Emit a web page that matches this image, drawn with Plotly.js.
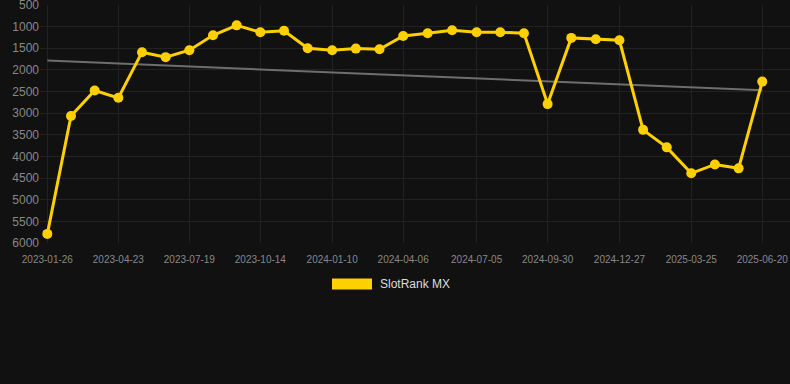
<!DOCTYPE html>
<html>
<head>
<meta charset="utf-8">
<script src="https://cdn.plot.ly/plotly-3.0.1.min.js"></script>
<style>
html,body{margin:0;padding:0;background:#111111;}
#chart{width:790px;height:384px;}
</style>
</head>
<body>
<div id="chart"></div>
<script>
const dates = [
  "2023-01-26","2023-02-24","2023-03-25","2023-04-23","2023-05-22","2023-06-20",
  "2023-07-19","2023-08-17","2023-09-15","2023-10-14","2023-11-12","2023-12-11",
  "2024-01-10","2024-02-08","2024-03-08","2024-04-06","2024-05-06","2024-06-05",
  "2024-07-05","2024-08-03","2024-09-01","2024-09-30","2024-10-29","2024-11-28",
  "2024-12-27","2025-01-25","2025-02-23","2025-03-25","2025-04-23","2025-05-22",
  "2025-06-20"
];
const rankValues = [
  5790, 3065, 2475, 2645, 1590, 1705,
  1545, 1200, 970, 1130, 1095, 1500,
  1545, 1508, 1522, 1215, 1153, 1083,
  1130, 1130, 1153, 2790, 1260, 1290,
  1315, 3385, 3790, 4390, 4185, 4275,
  2270
];
const trendDates = ["2023-01-26", "2025-06-20"];
const trendValues = [1785, 2472];
const tickDates = [
  "2023-01-26","2023-04-23","2023-07-19","2023-10-14","2024-01-10","2024-04-06",
  "2024-07-05","2024-09-30","2024-12-27","2025-03-25","2025-06-20"
];
const yTicks = [500,1000,1500,2000,2500,3000,3500,4000,4500,5000,5500,6000];
const seriesName = "SlotRank MX";

const gold = "#ffd000";
const font = "Arial, 'Liberation Sans', Helvetica, sans-serif";

const traces = [
  {
    x: trendDates, y: trendValues, type: "scatter", mode: "lines",
    line: {color: "#6e6e6e", width: 2}, showlegend: false, hoverinfo: "skip"
  },
  {
    x: dates, y: rankValues, type: "scatter", mode: "lines+markers",
    name: seriesName,
    line: {color: gold, width: 3},
    marker: {color: gold, size: 10},
    showlegend: false
  }
];

const layout = {
  width: 790, height: 384,
  paper_bgcolor: "#111111", plot_bgcolor: "#111111",
  margin: {l: 40, r: 0, t: 5, b: 141},
  font: {family: font, color: "#888888"},
  xaxis: {
    type: "date",
    range: ["2023-01-17", "2025-07-24"],
    tickvals: tickDates, ticktext: tickDates,
    tickfont: {size: 10, color: "#888888"},
    ticklabelstandoff: 9,
    ticklabeloverflow: "allow",
    showgrid: true, gridcolor: "#222222", gridwidth: 1,
    zeroline: false, showline: false, ticks: "", ticklen: 0
  },
  yaxis: {
    range: [6000, 500],
    tickvals: yTicks,
    tickfont: {size: 12, color: "#888888"},
    ticklabeloverflow: "allow",
    showgrid: true, gridcolor: "#222222", gridwidth: 1,
    zeroline: false, showline: false, ticks: "", ticklen: 0
  },
  shapes: [
    {type: "rect", xref: "paper", yref: "paper",
     x0: (332-40)/750, x1: (372-40)/750,
     y0: (243-289.5)/238, y1: (243-278.5)/238,
     fillcolor: gold, line: {width: 0}}
  ],
  annotations: [
    {xref: "paper", yref: "paper", x: (378-40)/750, y: (243-284)/238,
     xanchor: "left", yanchor: "middle", showarrow: false,
     text: seriesName, font: {family: font, size: 12, color: "#dddddd"}}
  ]
};

Plotly.newPlot("chart", traces, layout, {displayModeBar: false, staticPlot: true});
</script>
</body>
</html>
